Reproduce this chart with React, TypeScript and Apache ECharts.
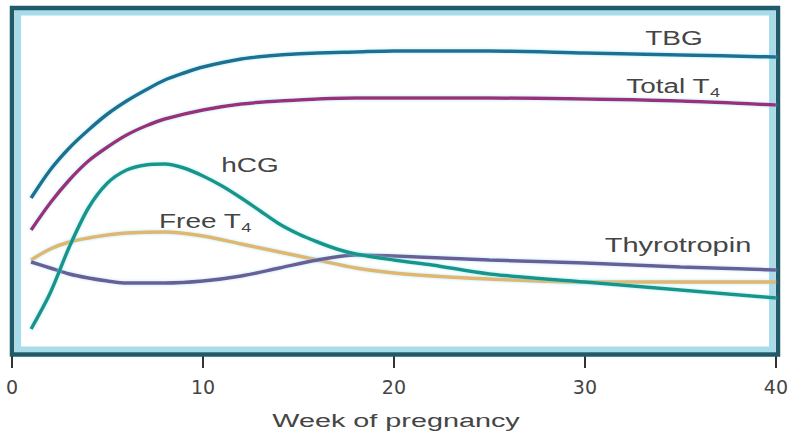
import React, { useEffect, useRef } from "react";
import * as echarts from "echarts";

const xTicks = [0, 10, 20, 30, 40];
const xName = "Week of pregnancy";

const tbgWeeks = [1, 2, 3, 4, 5, 6, 7, 8, 9, 10, 12, 14, 16, 18, 20, 25, 30, 35, 40];
const tbgValues = [157, 185, 207, 225, 241, 254, 265, 275, 282, 288, 296, 300, 302, 303, 304, 304, 302, 300, 298];

const totalT4Weeks = [1, 2, 3, 4, 5, 6, 7, 8, 10, 12, 14, 16, 18, 20, 25, 30, 35, 40];
const totalT4Values = [125, 152, 175, 194, 208, 220, 229, 236, 245, 251, 254, 256, 257, 257, 257, 256, 254, 250];

const hcgWeeks = [1, 2, 3, 4, 5, 6, 7, 8, 9, 10, 11, 12, 13, 14, 15, 16, 17, 18, 20, 22, 25, 30, 35, 40];
const hcgValues = [26, 62, 108, 147, 172, 185, 190, 191, 187, 179, 169, 157, 144, 131, 121, 113, 106, 101, 95, 90, 81, 73, 65, 57];

const freeT4Weeks = [1, 2, 3, 4, 5, 6, 8, 10, 12, 14, 16, 18, 20, 22, 25, 30, 35, 40];
const freeT4Values = [95, 106, 113, 117, 120, 122, 123, 119, 111, 103, 95, 87, 82, 79, 76, 73, 73, 73];

const tshWeeks = [1, 2, 3, 4, 5, 6, 8, 10, 12, 14, 16, 18, 20, 25, 30, 35, 40];
const tshValues = [93, 87, 81, 77, 74, 72, 72, 74, 79, 87, 95, 100, 99, 95, 92, 88, 85];

const pairs = (w: number[], v: number[]) => w.map((x, i) => [x, v[i]]);

export default function App() {
  const ref = useRef<HTMLDivElement>(null);
  useEffect(() => {
    if (!ref.current) return;
    const chart = echarts.init(ref.current, null, { renderer: "svg" });
    const font = "Liberation Sans, Arial, sans-serif";
    const textColor = "#454545";
    const lbl = (text: string, x: number, y: number, sx: number, size = 20) => ({
      type: "text",
      x,
      y,
      scaleX: sx,
      z: 10,
      style: {
        text,
        fill: textColor,
        fontSize: size,
        fontFamily: font,
        align: "center",
        verticalAlign: "middle",
      },
    });
    const subLbl = (main: string, sub: string, x: number, y: number, sx: number) => ({
      type: "text",
      x,
      y,
      scaleX: sx,
      z: 10,
      style: {
        text: `{m|${main}}{s|${sub}}`,
        fill: textColor,
        fontFamily: font,
        align: "center",
        verticalAlign: "middle",
        rich: {
          m: { fontSize: 20, lineHeight: 26, fill: textColor, fontFamily: font },
          s: { fontSize: 13, lineHeight: 13, verticalAlign: "bottom", fill: textColor, fontFamily: font },
        },
      },
    });
    const line = (name: string, data: number[][], color: string, width = 3.5) => ({
      type: "line",
      name,
      data,
      smooth: 0.3,
      showSymbol: false,
      symbol: "none",
      lineStyle: {
        color,
        width,
        shadowColor: "rgba(140,225,240,0.7)",
        shadowBlur: 3,
      },
      z: 3,
    });
    chart.setOption({
      animation: false,
      backgroundColor: "#ffffff",
      grid: { left: 12, right: 13, top: 8, bottom: 85 },
      xAxis: {
        type: "value",
        min: 0,
        max: 40,
        interval: 10,
        axisLine: { show: false },
        axisTick: { show: true, length: 13, inside: false, lineStyle: { color: "#333", width: 2 } },
        axisLabel: {
          color: textColor,
          fontSize: 19,
          fontFamily: "DejaVu Sans, sans-serif",
          margin: 22,
          formatter: (v: number) => (xTicks.includes(v) ? String(v) : ""),
        },
        splitLine: { show: false },
      },
      yAxis: {
        type: "value",
        min: 0,
        max: 347,
        show: false,
        splitLine: { show: false },
      },
      series: [
        line("TBG", pairs(tbgWeeks, tbgValues), "#1d6f92"),
        line("Total T4", pairs(totalT4Weeks, totalT4Values), "#9c2f7c"),
        line("Free T4", pairs(freeT4Weeks, freeT4Values), "#e2b66c"),
        line("Thyrotropin", pairs(tshWeeks, tshValues), "#6c5c98"),
        line("hCG", pairs(hcgWeeks, hcgValues), "#19968a"),
      ],
      graphic: [
        {
          type: "rect",
          z: 0,
          shape: { x: 18, y: 12.5, width: 754, height: 337 },
          style: { fill: "none", stroke: "#a9dcea", lineWidth: 6 },
        },
        {
          type: "rect",
          z: 1,
          shape: { x: 12, y: 8, width: 766, height: 346.5 },
          style: { fill: "none", stroke: "#1f5b68", lineWidth: 4.5 },
        },
        lbl("TBG", 674, 38, 1.4),
        subLbl("Total T", "4", 673, 86, 1.4),
        lbl("hCG", 250, 165, 1.4),
        subLbl("Free T", "4", 205, 221, 1.4),
        lbl("Thyrotropin", 678, 245, 1.45),
        lbl(xName, 396, 421, 1.6, 18),
      ],
    });
    return () => chart.dispose();
  }, []);
  return (
    <div
      ref={ref}
      style={{ position: "fixed", left: 0, top: 0, width: 791, height: 440 }}
    />
  );
}
